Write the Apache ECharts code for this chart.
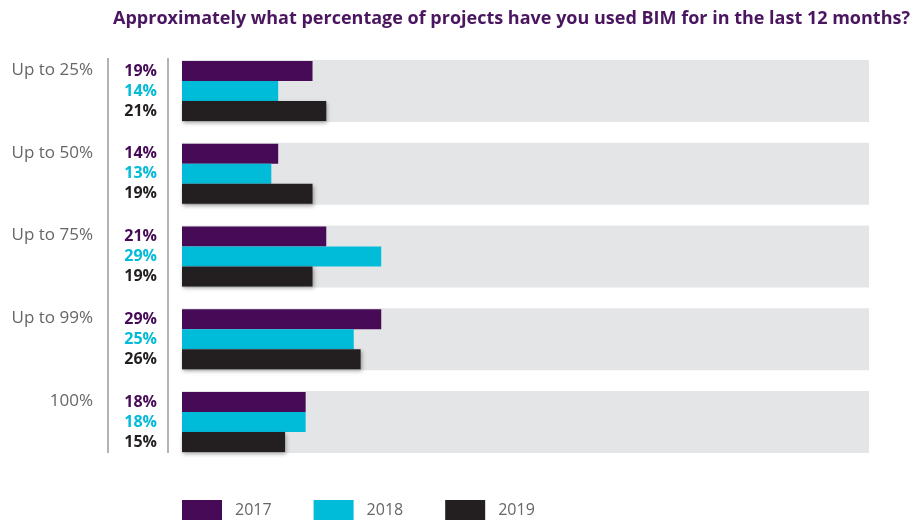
<!DOCTYPE html>
<html><head><meta charset="utf-8">
<script src="https://cdn.jsdelivr.net/npm/echarts@6/dist/echarts.min.js"></script>
<style>html,body{margin:0;padding:0;background:#fff}#c{width:920px;height:523px}</style>
</head><body><div id="c"></div>
<script>
const categories = ['Up to 25%', 'Up to 50%', 'Up to 75%', 'Up to 99%', '100%'];
const years = ['2017', '2018', '2019'];
const values2017 = [19, 14, 21, 29, 18];
const values2018 = [14, 13, 29, 25, 18];
const values2019 = [21, 19, 19, 26, 15];
const fullScale = [100, 100, 100, 100, 100];
const colors = ['#470a57', '#00bcd9', '#231f20'];

const chart = echarts.init(document.getElementById('c'));
const font = 'Open Sans';
function barSeries(name, data, color, extra) {
  return Object.assign({
    name: name, type: 'bar', data: data, yAxisIndex: 0,
    barWidth: 20, barGap: '0%', z: 3,
    itemStyle: { color: color },
    label: { show: true, position: 'left', distance: 25, formatter: '{c}%',
      color: color, fontFamily: font, fontWeight: 'bold', fontSize: 16 }
  }, extra || {});
}
chart.setOption({
  animation: false,
  title: { text: 'Approximately what percentage of projects have you used BIM for in the last 12 months?',
    right: 5, top: 5,
    textStyle: { color: '#4b1660', fontFamily: font, fontWeight: 'bold', fontSize: 18 } },
  legend: { data: years, left: 177, top: 495, itemWidth: 40, itemHeight: 20, itemGap: 42,
    icon: 'rect',
    textStyle: { color: '#666', fontFamily: font, fontSize: 16, padding: [0, 0, 0, 8] } },
  grid: { left: 182, width: 687, top: 49.6, height: 413.75 },
  xAxis: { type: 'value', min: 0, max: 100, show: false },
  yAxis: [
    { type: 'category', data: categories, inverse: true,
      axisLine: { show: false }, axisTick: { show: false },
      axisLabel: { margin: 89, color: '#666', fontFamily: font, fontSize: 17, lineHeight: 21,
        formatter: function (v) { return v + '\n\n'; } } },
    { type: 'category', data: categories, inverse: true, show: false }
  ],
  graphic: [
    { type: 'line', shape: { x1: 108, y1: 58, x2: 108, y2: 453 }, style: { stroke: '#9a9a9a', lineWidth: 1.5 } },
    { type: 'line', shape: { x1: 168, y1: 58, x2: 168, y2: 453 }, style: { stroke: '#9a9a9a', lineWidth: 1.5 } }
  ],
  series: [
    { name: 'bg', type: 'bar', data: fullScale, yAxisIndex: 1, barWidth: 62, z: 1,
      itemStyle: { color: '#e4e5e7' }, silent: true },
    barSeries(years[0], values2017, colors[0]),
    barSeries(years[1], values2018, colors[1]),
    barSeries(years[2], values2019, colors[2], {
      itemStyle: { color: colors[2], shadowBlur: 4, shadowOffsetY: 2, shadowOffsetX: 1, shadowColor: 'rgba(0,0,0,0.35)' } })
  ]
});
</script></body></html>
